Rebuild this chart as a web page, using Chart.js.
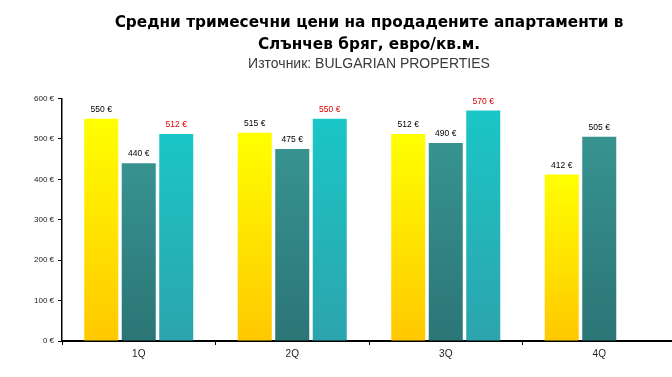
<!DOCTYPE html>
<html>
<head>
<meta charset="utf-8">
<script src="https://cdn.jsdelivr.net/npm/chart.js@4"></script>
<style>
html,body{margin:0;padding:0;background:#fff;overflow:hidden;width:672px;height:377px;}
canvas{display:block;}
</style>
</head>
<body>
<canvas id="c" width="676" height="377"></canvas>
<script>
const categories = ['1Q', '2Q', '3Q', '4Q'];
const series1 = [550, 515, 512, 412];
const series2 = [440, 475, 490, 505];
const series3 = [512, 550, 570, null];
const yTicks = [0, 100, 200, 300, 400, 500, 600];
const titleLines = ['Средни тримесечни цени на продадените апартаменти в', 'Слънчев бряг, евро/кв.м.'];
const subtitleText = 'Източник: BULGARIAN PROPERTIES';

const gradColors = [
  ['#FFFF00', '#FFC800'],
  ['#379390', '#2C7577'],
  ['#1BC6C6', '#2CA4AD']
];
const labelColors = ['#000000', '#000000', '#E00000'];

function barGradient(ctx) {
  const chart = ctx.chart;
  const ys = chart.scales && chart.scales.y;
  const cols = gradColors[ctx.datasetIndex];
  if (!chart.chartArea || !ys || ctx.raw == null) return cols[0];
  const top = ys.getPixelForValue(ctx.raw);
  const bottom = ys.getPixelForValue(0);
  if (!isFinite(top) || !isFinite(bottom) || top === bottom) return cols[0];
  const g = chart.ctx.createLinearGradient(0, top, 0, bottom);
  g.addColorStop(0, cols[0]);
  g.addColorStop(1, cols[1]);
  return g;
}

const valueLabels = {
  id: 'valueLabels',
  afterDatasetsDraw(chart) {
    const c = chart.ctx;
    c.save();
    c.font = '8.5px "Liberation Sans", Arial, sans-serif';
    c.textAlign = 'center';
    c.textBaseline = 'middle';
    chart.data.datasets.forEach((ds, di) => {
      const meta = chart.getDatasetMeta(di);
      meta.data.forEach((bar, i) => {
        const v = ds.data[i];
        if (v == null) return;
        c.fillStyle = labelColors[di];
        c.fillText(v + ' €', bar.x, bar.y - 9);
      });
    });
    c.restore();
  }
};

new Chart(document.getElementById('c'), {
  type: 'bar',
  data: {
    labels: categories,
    datasets: [
      { label: 'Серия 1', data: series1, backgroundColor: barGradient },
      { label: 'Серия 2', data: series2, backgroundColor: barGradient },
      { label: 'Серия 3', data: series3, backgroundColor: barGradient }
    ]
  },
  options: {
    responsive: false,
    animation: false,
    devicePixelRatio: 1,
    layout: { padding: 0 },
    datasets: { bar: { barPercentage: 0.907, categoryPercentage: 0.733 } },
    plugins: {
      legend: { display: false },
      tooltip: { enabled: false },
      title: {
        display: true,
        fullSize: false,
        text: titleLines,
        color: '#000',
        font: { family: '"DejaVu Sans", sans-serif', size: 15.3, weight: 'bold', lineHeight: 1.45 },
        padding: { top: 12, bottom: 0 }
      },
      subtitle: {
        display: true,
        fullSize: false,
        text: subtitleText,
        color: '#3a3a3a',
        font: { family: '"Liberation Sans", sans-serif', size: 14, lineHeight: 1.15 },
        padding: { top: 0, bottom: 26 }
      }
    },
    scales: {
      x: {
        afterFit(s) { s.height = 36; },
        grid: { offset: true, drawOnChartArea: false, drawTicks: true, tickLength: 4, color: '#000', tickWidth: 1 },
        border: { display: true, color: '#000', width: 2 },
        ticks: { color: '#222', padding: 3, font: { family: '"Liberation Sans", sans-serif', size: 10 } }
      },
      y: {
        min: 0,
        max: 600,
        afterFit(s) { s.width = 62; },
        afterBuildTicks(s) { s.ticks = yTicks.map(v => ({ value: v })); },
        grid: { drawOnChartArea: false, drawTicks: true, tickLength: 4, color: '#000', tickWidth: 1 },
        border: { display: true, color: '#000', width: 1.5 },
        ticks: {
          color: '#222',
          padding: 4,
          font: { family: '"Liberation Sans", sans-serif', size: 8 },
          callback: (v) => v + ' €'
        }
      }
    }
  },
  plugins: [valueLabels]
});
</script>
</body>
</html>
